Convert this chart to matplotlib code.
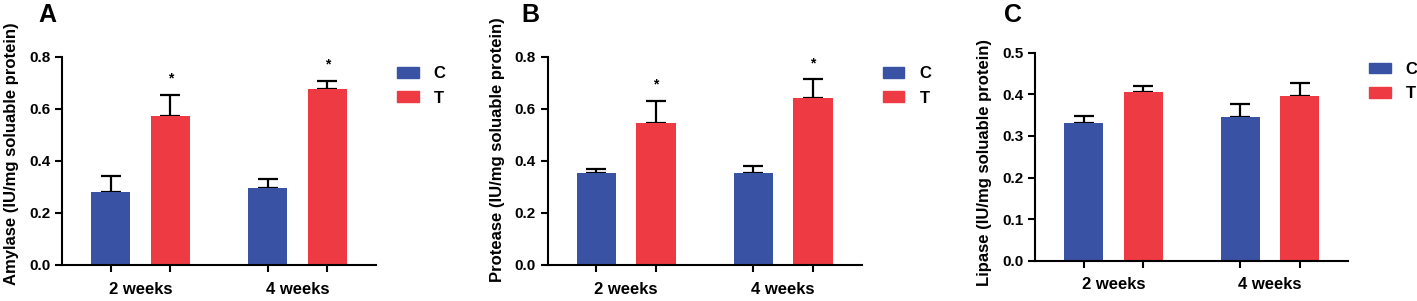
import numpy as np
from matplotlib import pyplot as plt
from matplotlib.patches import Patch

plt.rcParams['font.family'] = ['Liberation Sans', 'DejaVu Sans']
plt.rcParams['font.weight'] = 'bold'

groups = ["2 weeks", "4 weeks"]
series = ["C", "T"]
colors = ["#3A52A4", "#EE3A42"]

amylase_mean = {"C": [0.280, 0.297], "T": [0.574, 0.676]}
amylase_err = {"C": [0.063, 0.033], "T": [0.080, 0.032]}

protease_mean = {"C": [0.353, 0.355], "T": [0.545, 0.644]}
protease_err = {"C": [0.016, 0.027], "T": [0.087, 0.070]}

lipase_mean = {"C": [0.332, 0.345], "T": [0.405, 0.396]}
lipase_err = {"C": [0.016, 0.031], "T": [0.016, 0.031]}

panels = [
    ("A", "Amylase (IU/mg soluable protein)", amylase_mean, amylase_err,
     np.arange(0, 0.81, 0.2), 0.8, [True, True]),
    ("B", "Protease (IU/mg soluable protein)", protease_mean, protease_err,
     np.arange(0, 0.81, 0.2), 0.8, [True, True]),
    ("C", "Lipase (IU/mg soluable protein)", lipase_mean, lipase_err,
     np.arange(0, 0.51, 0.1), 0.5, [False, False]),
]

# axes boxes in pixel coords: left, right, top, bottom
boxes = [(62, 376, 57, 265), (547.7, 861.7, 57, 265), (1035.3, 1348, 52.7, 260.7)]
letters_x = [47, 530, 1013]
ylabel_pos = [(19, 0.536), (505, 0.553), (992, 0.472)]

W, H = 1417, 301
fig = plt.figure(figsize=(W / 100, H / 100), dpi=100)

x = np.arange(len(groups))
offset = 0.19
width = 0.25

for (letter, ylabel, means, errs, yticks, ymax, stars), box, lx, (yx, yy) in zip(panels, boxes, letters_x, ylabel_pos):
    l, r, t, b = box
    ax = fig.add_axes([l / W, 1 - b / H, (r - l) / W, (b - t) / H])
    for i, s in enumerate(series):
        pos = x + (offset if s == "T" else -offset)
        m = np.array(means[s])
        e = np.array(errs[s])
        ax.errorbar(pos, m, yerr=[np.zeros_like(e), e], fmt='none', ecolor='black',
                    elinewidth=1.6, capsize=7, capthick=1.6, zorder=1)
        ax.bar(pos, m, width, color=colors[i], label=s, zorder=2)
        if s == "T":
            for j in range(len(groups)):
                if stars[j]:
                    ax.text(pos[j], m[j] + e[j] + ymax * 0.045, "*", ha='center', va='bottom',
                            fontsize=10, fontweight='bold')
    ax.set_xlim(-0.5, 1.5)
    ax.set_ylim(0, ymax)
    ax.set_yticks(yticks)
    ax.set_yticklabels([f"{v:.1f}" for v in yticks], fontsize=11, fontweight='bold')
    ax.set_xticks(np.concatenate([x - offset, x + offset]))
    ax.set_xticklabels([])
    ax.set_xticks(x, minor=True)
    ax.set_xticklabels(groups, minor=True, fontsize=12, fontweight='bold')
    ax.tick_params(axis='x', which='minor', length=0, pad=12)
    ax.tick_params(axis='both', which='major', length=5, width=1.5, direction='out')
    ax.spines['top'].set_visible(False)
    ax.spines['right'].set_visible(False)
    ax.spines['left'].set_linewidth(1.5)
    ax.spines['bottom'].set_linewidth(1.5)
    ax.set_ylabel(ylabel, fontsize=12, fontweight='bold')
    ax.yaxis.set_label_coords((yx - l) / (r - l), yy)
    handles = [Patch(color=c) for c in colors]
    ax.legend(handles, series, loc='upper left', bbox_to_anchor=(1.067, 0.955), frameon=False,
              borderpad=0, borderaxespad=0, handlelength=1.3, handleheight=0.6,
              labelspacing=0.55, handletextpad=0.9, prop={'size': 12, 'weight': 'bold'})
    fig.text(lx / W, 1 - 15 / H, letter, fontsize=18, fontweight='bold', ha='center', va='center')

fig.savefig("out.png", dpi=100)
